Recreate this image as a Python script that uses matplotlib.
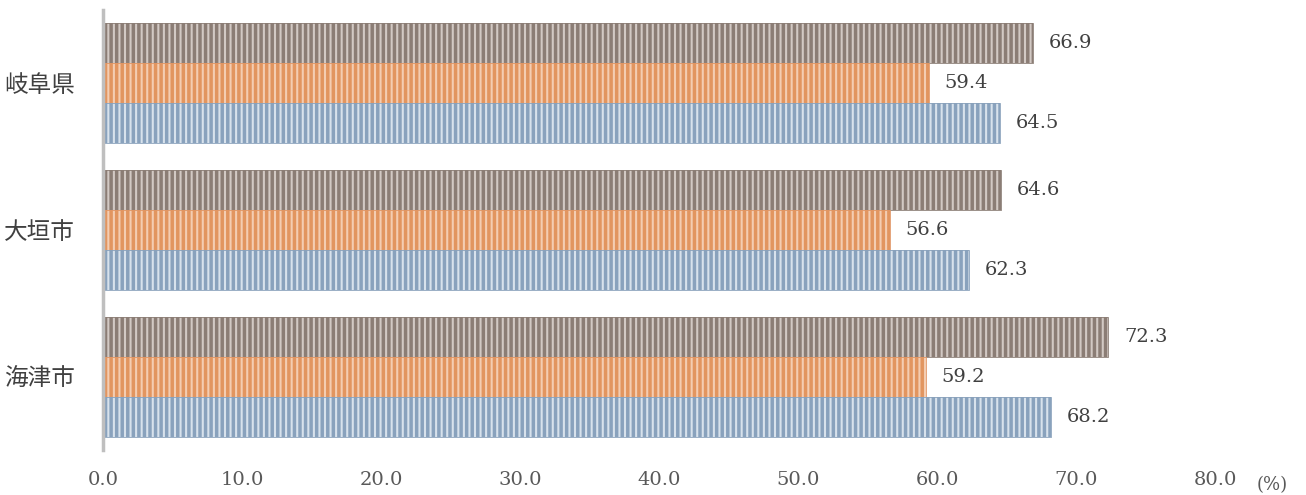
import numpy as np
import matplotlib.pyplot as plt

plt.rcParams['font.family'] = ['DejaVu Serif', 'Noto Sans CJK JP']

categories = ['岐阜県', '大垣市', '海津市']
series_top = [66.9, 64.6, 72.3]
series_mid = [59.4, 56.6, 59.2]
series_bot = [64.5, 62.3, 68.2]
xticks = [0, 10, 20, 30, 40, 50, 60, 70, 80]

# base, stripe, edge colours per series
styles = [
    ('#8b7d75', '#d2c9c4', '#8b7d75'),
    ('#e2955f', '#f4cdb2', '#e09564'),
    ('#89a2bd', '#d8e2ec', '#89a1bb'),
]

fig = plt.figure(figsize=(13.06, 4.95), dpi=100)
ax = fig.add_axes([103 / 1306, 45 / 495, 1112 / 1306, 440 / 495])

h = 0.272
ypos = np.arange(len(categories))[::-1]
plt.rcParams['hatch.linewidth'] = 1.5

for vals, off, (base, stripe, edge) in zip([series_top, series_mid, series_bot], [h, 0, -h], styles):
    y = ypos + off
    ax.barh(y, vals, height=h, color=base, linewidth=0)
    ax.barh(y, vals, height=h, fill=False, edgecolor=stripe, linewidth=0, hatch='|||')
    ax.barh(y, vals, height=h, fill=False, edgecolor=edge, linewidth=0.6)
    for yy, v in zip(y, vals):
        ax.text(v + 1.15, yy, f'{v:.1f}', va='center', ha='left', fontsize=14, color='#404040')

ax.set_xlim(0, 80)
ax.set_ylim(-0.5, 2.5)
ax.set_xticks(xticks)
ax.set_xticklabels([f'{t:.1f}' for t in xticks], fontsize=14, color='#595959')
ax.set_yticks(ypos)
ax.set_yticklabels(categories, fontsize=17, color='#404040', family=['Noto Sans CJK JP'])
ax.tick_params(axis='x', length=0, pad=15)
ax.tick_params(axis='y', length=0, pad=20)
for s in ['top', 'right', 'bottom']:
    ax.spines[s].set_visible(False)
ax.spines['left'].set_color('#bfbfbf')
ax.spines['left'].set_linewidth(2.5)

fig.text(1272 / 1306, 1 - 485 / 495, '(%)', ha='center', va='center', fontsize=13, color='#595959')

fig.savefig('out.png', dpi=100)
